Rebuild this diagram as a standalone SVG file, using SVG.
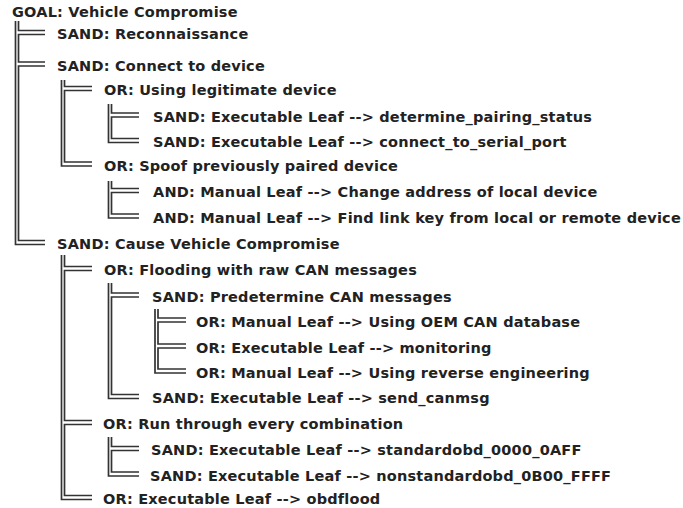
<svg xmlns="http://www.w3.org/2000/svg" width="683" height="508" viewBox="0 0 683 508">
<style>
text{font-family:"DejaVu Sans","Verdana",sans-serif;font-weight:bold;font-size:14.5px;letter-spacing:0.2px;fill:#222}
.c path{fill:none;stroke:#333;stroke-width:1.7}
</style>
<rect width="683" height="508" fill="#fff"/>
<g class="c" id="connectors">
<path d="M15.5 21V244.5H45M18.5 21V30.5H45M45 34.5H18.5V62H45M45 66H18.5V240.5H45"/>
<path d="M61.5 80V166H92M64.5 80V86.5H92M92 90.5H64.5V162H92"/>
<path d="M108.5 104V142.5H139M111.5 104V113H139M139 117H111.5V138.5H139"/>
<path d="M108.5 181V218H139M111.5 181V188.5H139M139 192.5H111.5V214H139"/>
<path d="M61.5 255V499.5H92M64.5 255V266.5H92M92 270.5H64.5V420.5H92M92 424.5H64.5V495.5H92"/>
<path d="M108.5 283V398.5H139M111.5 283V293H139M139 297H111.5V394.5H139"/>
<path d="M155 309V373H186M158 309V318H186M186 322H158V344H186M186 348H158V369H186"/>
<path d="M108.5 437V476H139M111.5 437V446.5H139M139 450.5H111.5V472H139"/>
</g>
<g id="n1"><text x="12" y="17">GOAL: Vehicle Compromise</text></g>
<g id="n2"><text x="57" y="39">SAND: Reconnaissance</text></g>
<g id="n3"><text x="57" y="70.5">SAND: Connect to device</text></g>
<g id="n4"><text x="104" y="95">OR: Using legitimate device</text></g>
<g id="n5"><text x="153" y="121.5">SAND: Executable Leaf --&gt; determine_pairing_status</text></g>
<g id="n6"><text x="153" y="147">SAND: Executable Leaf --&gt; connect_to_serial_port</text></g>
<g id="n7"><text x="104" y="170.5">OR: Spoof previously paired device</text></g>
<g id="n8"><text x="153" y="197">AND: Manual Leaf --&gt; Change address of local device</text></g>
<g id="n9"><text x="153" y="222.5">AND: Manual Leaf --&gt; Find link key from local or remote device</text></g>
<g id="n10"><text x="57" y="249">SAND: Cause Vehicle Compromise</text></g>
<g id="n11"><text x="104" y="275">OR: Flooding with raw CAN messages</text></g>
<g id="n12"><text x="152" y="301.5">SAND: Predetermine CAN messages</text></g>
<g id="n13"><text x="196" y="326.5">OR: Manual Leaf --&gt; Using OEM CAN database</text></g>
<g id="n14"><text x="196" y="352.5">OR: Executable Leaf --&gt; monitoring</text></g>
<g id="n15"><text x="196" y="377.5">OR: Manual Leaf --&gt; Using reverse engineering</text></g>
<g id="n16"><text x="152" y="403">SAND: Executable Leaf --&gt; send_canmsg</text></g>
<g id="n17"><text x="103" y="429">OR: Run through every combination</text></g>
<g id="n18"><text x="151" y="455">SAND: Executable Leaf --&gt; standardobd_0000_0AFF</text></g>
<g id="n19"><text x="150" y="480.5">SAND: Executable Leaf --&gt; nonstandardobd_0B00_FFFF</text></g>
<g id="n20"><text x="103" y="504">OR: Executable Leaf --&gt; obdflood</text></g>
</svg>
